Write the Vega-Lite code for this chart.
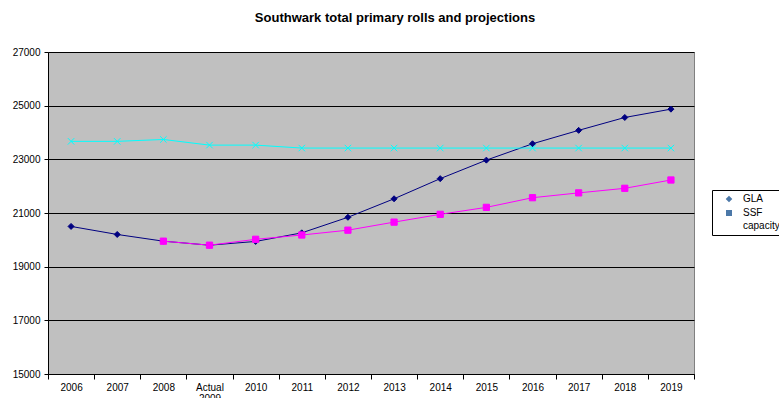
{
  "$schema": "https://vega.github.io/schema/vega-lite/v6.json",
  "autosize": {"type": "none"},
  "width": 646,
  "height": 322,
  "padding": {"left": 48, "top": 52, "right": 85, "bottom": 24},
  "background": "white",
  "title": {
    "text": "Southwark total primary rolls and projections",
    "anchor": "middle",
    "font": "Liberation Sans",
    "fontSize": 13,
    "fontWeight": "bold",
    "color": "black",
    "offset": 22,
    "dx": 24
  },
  "config": {
    "view": {"fill": "#C0C0C0", "stroke": "#808080", "strokeWidth": 1},
    "axis": {"labelFont": "Liberation Sans", "labelFontSize": 10, "labelColor": "black", "tickColor": "black", "domainColor": "black", "gridColor": "black", "gridOpacity": 1, "gridWidth": 1, "title": null}
  },
  "data": {"values": [
    {"year": "2006", "series": "GLA", "value": 20500},
    {"year": "2007", "series": "GLA", "value": 20200},
    {"year": "2008", "series": "GLA", "value": 19950},
    {"year": "Actual 2009", "series": "GLA", "value": 19800},
    {"year": "2010", "series": "GLA", "value": 19940},
    {"year": "2011", "series": "GLA", "value": 20260},
    {"year": "2012", "series": "GLA", "value": 20840},
    {"year": "2013", "series": "GLA", "value": 21530},
    {"year": "2014", "series": "GLA", "value": 22280},
    {"year": "2015", "series": "GLA", "value": 22970},
    {"year": "2016", "series": "GLA", "value": 23580},
    {"year": "2017", "series": "GLA", "value": 24080},
    {"year": "2018", "series": "GLA", "value": 24560},
    {"year": "2019", "series": "GLA", "value": 24870},
    {"year": "2008", "series": "SSF", "value": 19950},
    {"year": "Actual 2009", "series": "SSF", "value": 19800},
    {"year": "2010", "series": "SSF", "value": 20020},
    {"year": "2011", "series": "SSF", "value": 20180},
    {"year": "2012", "series": "SSF", "value": 20360},
    {"year": "2013", "series": "SSF", "value": 20660},
    {"year": "2014", "series": "SSF", "value": 20950},
    {"year": "2015", "series": "SSF", "value": 21210},
    {"year": "2016", "series": "SSF", "value": 21570},
    {"year": "2017", "series": "SSF", "value": 21750},
    {"year": "2018", "series": "SSF", "value": 21920},
    {"year": "2019", "series": "SSF", "value": 22230},
    {"year": "2006", "series": "capacity", "value": 23670},
    {"year": "2007", "series": "capacity", "value": 23670},
    {"year": "2008", "series": "capacity", "value": 23740},
    {"year": "Actual 2009", "series": "capacity", "value": 23530},
    {"year": "2010", "series": "capacity", "value": 23530},
    {"year": "2011", "series": "capacity", "value": 23420},
    {"year": "2012", "series": "capacity", "value": 23420},
    {"year": "2013", "series": "capacity", "value": 23420},
    {"year": "2014", "series": "capacity", "value": 23420},
    {"year": "2015", "series": "capacity", "value": 23420},
    {"year": "2016", "series": "capacity", "value": 23420},
    {"year": "2017", "series": "capacity", "value": 23420},
    {"year": "2018", "series": "capacity", "value": 23420},
    {"year": "2019", "series": "capacity", "value": 23420}
  ]},
  "encoding": {
    "x": {
      "field": "year", "type": "ordinal",
      "sort": ["2006","2007","2008","Actual 2009","2010","2011","2012","2013","2014","2015","2016","2017","2018","2019"],
      "scale": {"type": "band", "paddingInner": 0, "paddingOuter": 0},
      "bandPosition": 0.5,
      "axis": {"tickBand": "extent", "labelAngle": 0, "tickSize": 5, "labelPadding": 3, "grid": false, "labelExpr": "datum.label == 'Actual 2009' ? ['Actual', '2009'] : datum.label", "labelLineHeight": 11}
    },
    "y": {
      "field": "value", "type": "quantitative",
      "scale": {"domain": [15000, 27000], "nice": false, "zero": false},
      "axis": {"values": [15000, 17000, 19000, 21000, 23000, 25000, 27000], "format": "d", "tickSize": 4, "labelPadding": 4, "grid": true}
    }
  },
  "layer": [
    {
      "mark": {"type": "line", "strokeWidth": 1},
      "encoding": {
        "color": {"field": "series", "type": "nominal", "scale": {"domain": ["GLA", "SSF", "capacity"], "range": ["#000080", "#FF00FF", "#00FFFF"]}, "legend": null}
      }
    },
    {
      "mark": {"type": "point", "filled": true, "opacity": 1, "strokeWidth": 1},
      "encoding": {
        "shape": {"field": "series", "type": "nominal", "scale": {"domain": ["GLA", "SSF", "capacity"], "range": ["diamond", "square", "M-1,-1L1,1M-1,1L1,-1"]}, "legend": null},
        "size": {"field": "series", "type": "nominal", "scale": {"domain": ["GLA", "SSF", "capacity"], "range": [36, 42, 20]}, "legend": null},
        "fill": {"field": "series", "type": "nominal", "scale": {"domain": ["GLA", "SSF", "capacity"], "range": ["#000080", "#FF00FF", "#00FFFF"]}, "legend": null},
        "stroke": {"field": "series", "type": "nominal", "scale": {"domain": ["GLA", "SSF", "capacity"], "range": ["#000080", "#FF00FF", "#00FFFF"]}, "legend": null}
      }
    },
    {
      "transform": [{"filter": "datum.value < 0"}],
      "mark": {"type": "point", "filled": true, "opacity": 1, "strokeWidth": 1},
      "encoding": {
        "shape": {"field": "series", "type": "nominal", "scale": {"domain": ["GLA", "SSF", "capacity"], "range": ["M-3.7,0H3.7M0,-1.1L1.1,0L0,1.1L-1.1,0Z", "M-3.7,0H3.7M-1,-1H1V1H-1Z", "M-3.7,0H3.7M-0.8,-0.8L0.8,0.8M-0.8,0.8L0.8,-0.8"]},
          "legend": {"title": null, "orient": "none", "legendX": 664, "legendY": 138, "padding": 4, "strokeColor": "black", "fillColor": "white", "labelFont": "Liberation Sans", "labelFontSize": 10, "labelColor": "black", "symbolSize": 36, "symbolOffset": 8, "labelOffset": 9, "rowPadding": 3, "symbolStrokeWidth": 1, "cornerRadius": 0,
            "encode": {"symbols": {"fill": {"signal": "scale('color', datum.value)"}, "stroke": {"signal": "scale('color', datum.value)"}, "opacity": 1, "strokeWidth": 1}}}}
      }
    }
  ],
  "resolve": {"scale": {"shape": "independent"}, "legend": {"shape": "independent"}}
}
